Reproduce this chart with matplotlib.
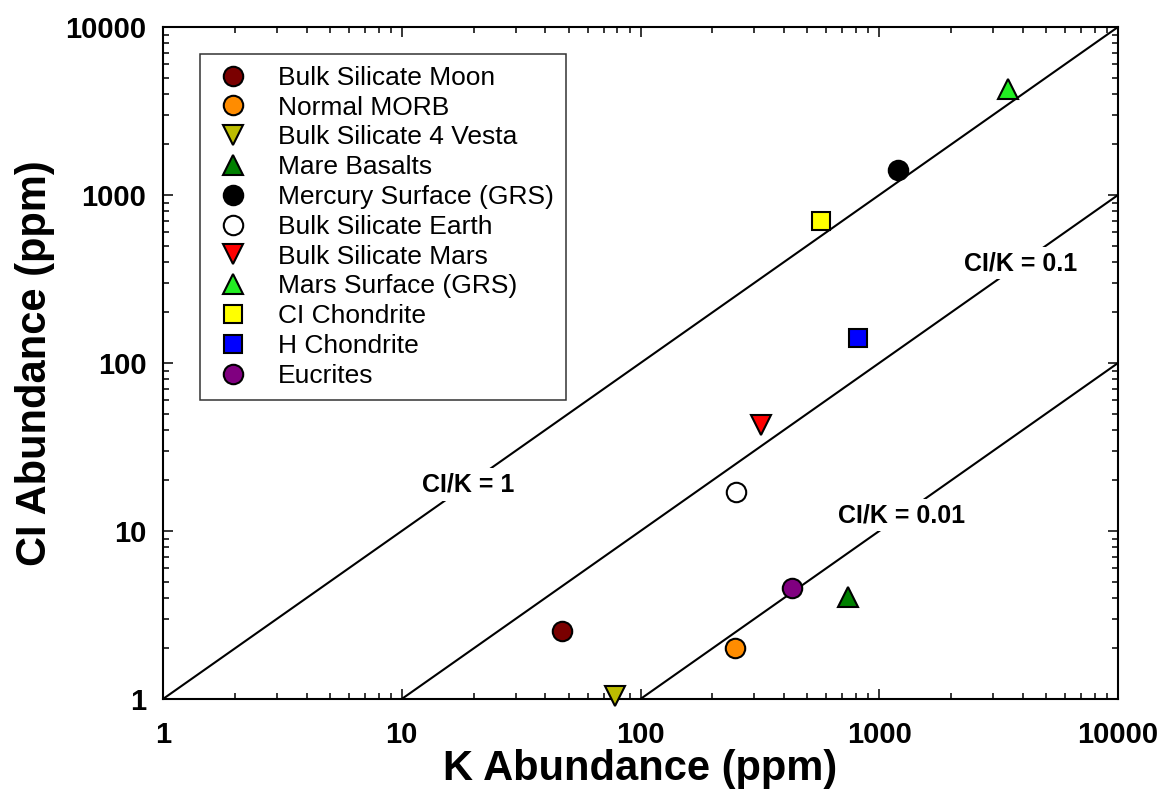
import numpy as np
import matplotlib
matplotlib.use('Agg')
import matplotlib.pyplot as plt

plt.rcParams['font.family'] = ['Liberation Sans', 'DejaVu Sans']

# values (K ppm, Cl ppm)
names = ['Bulk Silicate Moon', 'Normal MORB', 'Bulk Silicate 4 Vesta', 'Mare Basalts',
         'Mercury Surface (GRS)', 'Bulk Silicate Earth', 'Bulk Silicate Mars',
         'Mars Surface (GRS)', 'CI Chondrite', 'H Chondrite', 'Eucrites']
k_ppm = [47, 249, 78, 740, 1200, 250, 320, 3460, 570, 815, 431]
cl_ppm = [2.55, 2.0, 1.04, 4.05, 1400, 17, 43, 4300, 700, 140, 4.6]
markers = ['o', 'o', 'v', '^', 'o', 'o', 'v', '^', 's', 's', 'o']
colors = ['#7a0000', '#ff8c00', '#bdbd00', '#008000', '#000000', '#ffffff',
          '#ff0000', '#22ee22', '#ffff00', '#0000ff', '#800080']

# Cl/K reference lines and where their labels sit (K value on the line)
ratios = [1, 0.1, 0.01]
ratio_labels = ['CI/K = 1', 'CI/K = 0.1', 'CI/K = 0.01']
label_k = [18.9, 3926, 1245]

fig = plt.figure(figsize=(11.7, 8.01), dpi=100)
ax = fig.add_axes([163 / 1170, 102 / 801, 955 / 1170, 672 / 801])

for r, lab, kx in zip(ratios, ratio_labels, label_k):
    xs = np.array([1 / r, 1e4])
    ax.plot(xs, r * xs, color='black', lw=1.5, zorder=2)
    ax.text(kx, r * kx, lab, fontsize=18, fontweight='bold',
            ha='center', va='center', zorder=3,
            bbox=dict(facecolor='white', edgecolor='none', pad=3))

for n, kx, cy, m, c in zip(names, k_ppm, cl_ppm, markers, colors):
    ms = 12.5 if m == 's' else 14
    ax.plot(kx, cy, linestyle='none', marker=m, markersize=ms, markerfacecolor=c,
            markeredgecolor='black', markeredgewidth=1.5, label=n, zorder=4,
            clip_on=False)

ax.set_xscale('log')
ax.set_yscale('log')
ax.set_xlim(1, 1e4)
ax.set_ylim(1, 1e4)
ticks = [1, 10, 100, 1000, 10000]
ax.set_xticks(ticks)
ax.set_yticks(ticks)
ax.set_xticklabels([str(t) for t in ticks])
ax.set_yticklabels([str(t) for t in ticks])

for s in ax.spines.values():
    s.set_linewidth(1.5)
ax.tick_params(which='both', direction='in', top=True, right=True, width=1.1)
ax.tick_params(which='major', length=7.5)
ax.tick_params(which='minor', length=4.5)
ax.tick_params(axis='x', which='major', pad=16)
ax.tick_params(axis='y', which='major', pad=12)
for lbl in ax.get_xticklabels() + ax.get_yticklabels():
    lbl.set_fontsize(21)
    lbl.set_fontweight('bold')

ax.set_xlabel('K Abundance (ppm)', fontsize=30, fontweight='bold')
ax.set_ylabel('CI Abundance (ppm)', fontsize=30, fontweight='bold')
ax.xaxis.set_label_coords(0.5, -0.075)
ax.yaxis.set_label_coords(-0.113, 0.5)

leg = ax.legend(loc='upper left', bbox_to_anchor=(0.0387, 0.960), borderaxespad=0,
                fontsize=19, frameon=True, fancybox=False, edgecolor='black',
                handlelength=1.6, handletextpad=0.9, labelspacing=0.22,
                borderpad=0.45, numpoints=1)
leg.get_frame().set_linewidth(1.1)
leg.set_zorder(5)

fig.savefig('out.png', dpi=100)
